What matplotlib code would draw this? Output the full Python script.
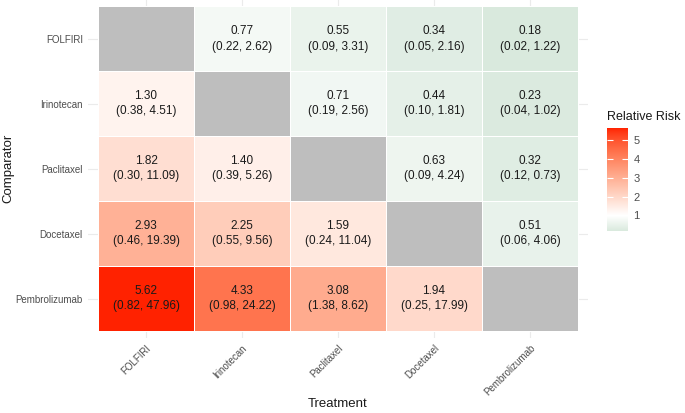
import numpy as np
import matplotlib
matplotlib.use("Agg")
import matplotlib.pyplot as plt
from matplotlib.colors import ListedColormap, Normalize
from matplotlib.cm import ScalarMappable

plt.rcParams['font.family'] = ['Liberation Sans', 'DejaVu Sans']

# Treatments (columns) and comparators (rows, top to bottom)
treatments = ["FOLFIRI", "Irinotecan", "Paclitaxel", "Docetaxel", "Pembrolizumab"]
comparators = ["FOLFIRI", "Irinotecan", "Paclitaxel", "Docetaxel", "Pembrolizumab"]

rr = [
    [np.nan, 0.77, 0.55, 0.34, 0.18],
    [1.30, np.nan, 0.71, 0.44, 0.23],
    [1.82, 1.40, np.nan, 0.63, 0.32],
    [2.93, 2.25, 1.59, np.nan, 0.51],
    [5.62, 4.33, 3.08, 1.94, np.nan],
]
lower = [
    [np.nan, 0.22, 0.09, 0.05, 0.02],
    [0.38, np.nan, 0.19, 0.10, 0.04],
    [0.30, 0.39, np.nan, 0.09, 0.12],
    [0.46, 0.55, 0.24, np.nan, 0.06],
    [0.82, 0.98, 1.38, 0.25, np.nan],
]
upper = [
    [np.nan, 2.62, 3.31, 2.16, 1.22],
    [4.51, np.nan, 2.56, 1.81, 1.02],
    [11.09, 5.26, np.nan, 4.24, 0.73],
    [19.39, 9.56, 11.04, np.nan, 4.06],
    [47.96, 24.22, 8.62, 17.99, np.nan],
]
legend_ticks = [1, 2, 3, 4, 5]


# --- Lab interpolation helpers (to mimic ggplot's gradient2) ---
def srgb_to_lab(rgb):
    c = np.asarray(rgb, float)
    c = np.where(c <= 0.04045, c / 12.92, ((c + 0.055) / 1.055) ** 2.4)
    m = np.array([[0.4124, 0.3576, 0.1805],
                  [0.2126, 0.7152, 0.0722],
                  [0.0193, 0.1192, 0.9505]])
    xyz = m @ c / np.array([0.95047, 1.0, 1.08883])
    f = np.where(xyz > 0.008856, np.cbrt(xyz), 7.787 * xyz + 16 / 116)
    return np.array([116 * f[1] - 16, 500 * (f[0] - f[1]), 200 * (f[1] - f[2])])


def lab_to_srgb(lab):
    L, a, b = lab
    fy = (L + 16) / 116
    fx = fy + a / 500
    fz = fy - b / 200
    f = np.array([fx, fy, fz])
    xyz = np.where(f ** 3 > 0.008856, f ** 3, (f - 16 / 116) / 7.787)
    xyz = xyz * np.array([0.95047, 1.0, 1.08883])
    m = np.array([[3.2406, -1.5372, -0.4986],
                  [-0.9689, 1.8758, 0.0415],
                  [0.0557, -0.2040, 1.0570]])
    c = m @ xyz
    c = np.where(c <= 0.0031308, 12.92 * c, 1.055 * np.clip(c, 0, None) ** (1 / 2.4) - 0.055)
    return np.clip(c, 0, 1)


vmin, vmid, vmax = 0.18, 1.0, 5.62
low_c = np.array([0xd9, 0xe9, 0xdd]) / 255
mid_c = np.array([1.0, 1.0, 1.0])
high_c = np.array([0xff, 0x22, 0x00]) / 255

vals = np.linspace(vmin, vmax, 512)
cols = []
for v in vals:
    if v <= vmid:
        t = (vmid - v) / (vmid - vmin)
        lab = (1 - t) * srgb_to_lab(mid_c) + t * srgb_to_lab(low_c)
    else:
        t = (v - vmid) / (vmax - vmid)
        lab = (1 - t) * srgb_to_lab(mid_c) + t * srgb_to_lab(high_c)
    cols.append(lab_to_srgb(lab))
cmap = ListedColormap(cols)
cmap.set_bad('#bebebe')
norm = Normalize(vmin, vmax)

fig = plt.figure(figsize=(6.85, 4.13), dpi=100)
ax = fig.add_axes([88.4 / 685, 1 - 337.5 / 413, 499.2 / 685, 337.5 / 413])

data = np.ma.masked_invalid(np.array(rr))
n = len(treatments)
edges = np.arange(n + 1) - 0.5
ax.pcolormesh(edges, edges, data, cmap=cmap, norm=norm,
              edgecolors='white', linewidth=0.6, zorder=2)

for i in range(n):
    for j in range(n):
        if np.isnan(rr[i][j]):
            continue
        txt = f"{rr[i][j]:.2f}\n({lower[i][j]:.2f}, {upper[i][j]:.2f})"
        ax.text(j, i, txt, ha='center', va='center', fontsize=8.5,
                color='#1a1a1a', linespacing=1.35, zorder=3)

ax.set_xlim(-0.6, n - 0.4)
ax.set_ylim(n - 0.4, -0.6)
ax.set_xticks(range(n))
ax.set_yticks(range(n))
ax.set_xticklabels(treatments, rotation=45, ha='right', va='top',
                   rotation_mode='anchor')
ax.set_yticklabels(comparators)
ax.tick_params(length=0, labelsize=7, labelcolor='#4d4d4d', pad=4)
ax.grid(True, color='#ebebeb', linewidth=0.8, zorder=0)
ax.set_axisbelow(True)
for s in ax.spines.values():
    s.set_visible(False)

# Axis titles placed in figure pixels
fig.text(338 / 685, 1 - 404 / 413, "Treatment", fontsize=9.5, color='#1a1a1a',
         ha='center', va='center')
fig.text(8 / 685, 1 - 168 / 413, "Comparator", fontsize=9.5, color='#1a1a1a',
         ha='center', va='center', rotation=90)

# Legend colourbar
cax = fig.add_axes([607 / 685, 1 - 231 / 413, 21 / 685, 103 / 413])
cb = fig.colorbar(ScalarMappable(norm=norm, cmap=cmap), cax=cax, ticks=legend_ticks)
cb.outline.set_visible(False)
cax.yaxis.set_ticks_position('both')
cax.tick_params(direction='in', color='white', length=4, width=0.8,
                labelsize=8, labelcolor='#4d4d4d', labelright=True,
                labelleft=False, pad=4)
cax.set_title("Relative Risk", fontsize=9, color='#1a1a1a', loc='left',
              pad=6)

fig.savefig("out.png", dpi=100)
